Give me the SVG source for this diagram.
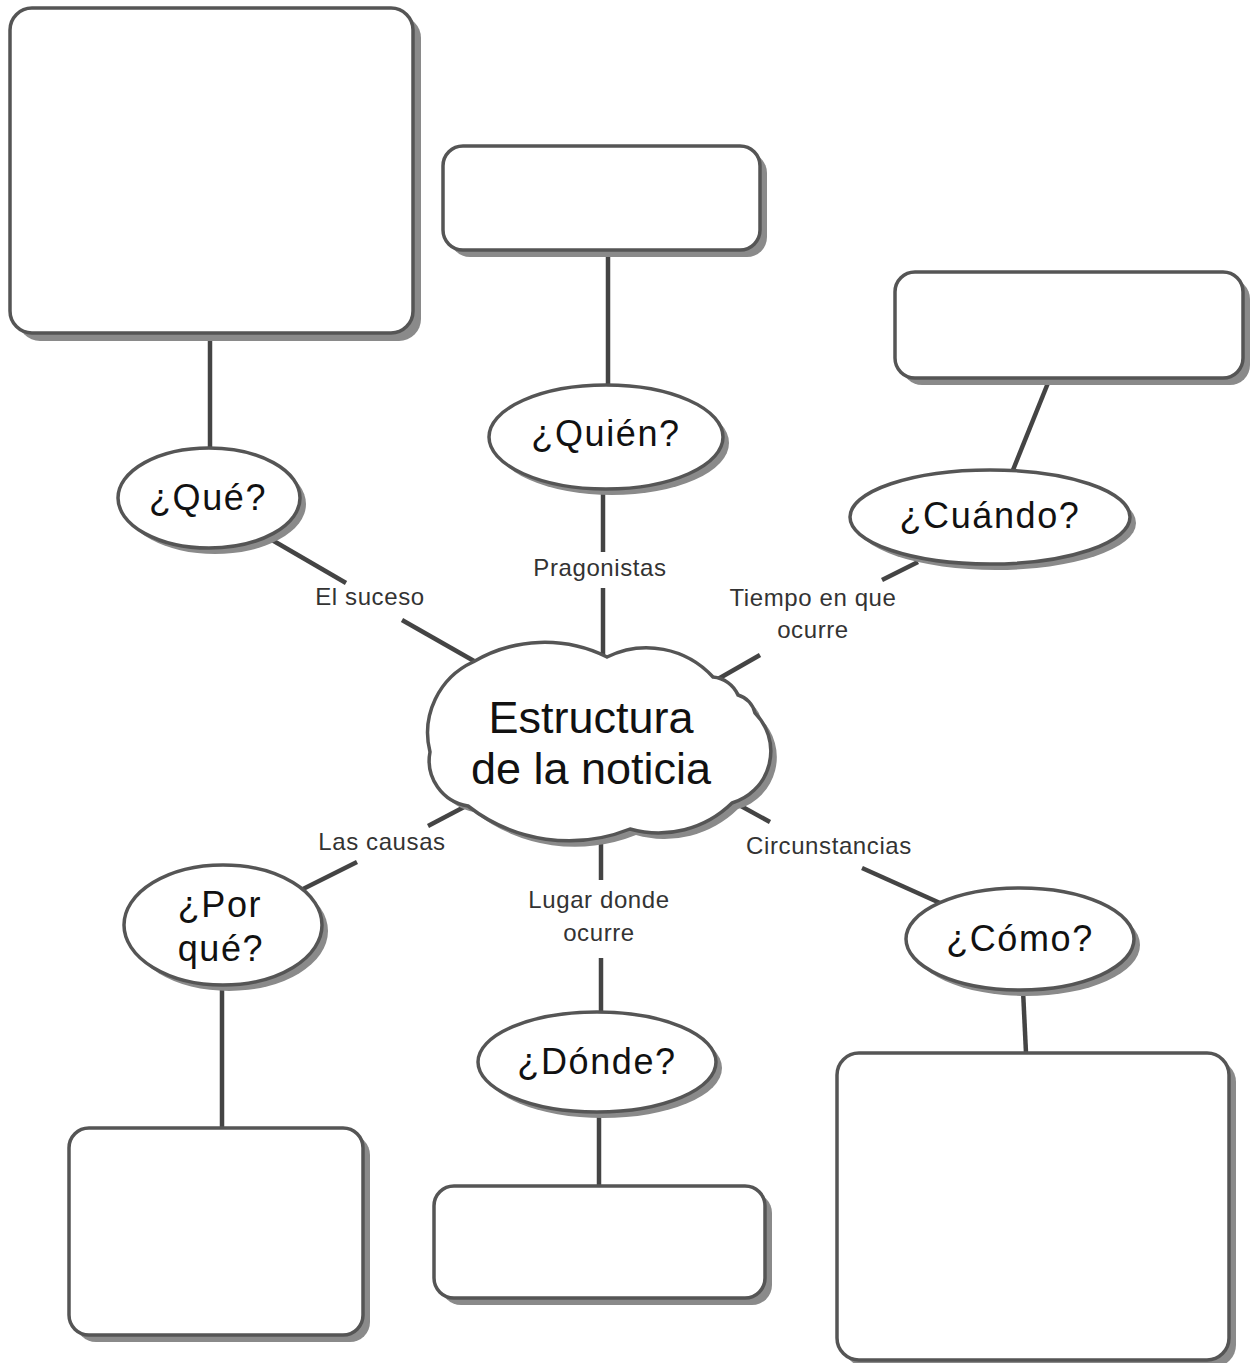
<svg xmlns="http://www.w3.org/2000/svg" width="1253" height="1363" viewBox="0 0 1253 1363">
<style>
.sh{fill:#8a8a8a}
.bx{fill:#fff;stroke:#555;stroke-width:3.5}
.cn{stroke:#444;stroke-width:4.5;fill:none;stroke-linecap:butt}
.nt{font-family:"Liberation Sans",Arial,sans-serif;font-size:36px;fill:#111;text-anchor:middle;letter-spacing:1.6px}
.lb{font-family:"Liberation Sans",Arial,sans-serif;font-size:24px;fill:#333;text-anchor:middle;letter-spacing:0.6px}
.ct{font-family:"Liberation Sans",Arial,sans-serif;font-size:45px;fill:#111;text-anchor:middle}
</style>
<defs>
<path id="cloud" d="M473,662 A140,140 0 0 1 607,657 A90,90 0 0 1 713,677 A30,30 0 0 1 738,695 A25,25 0 0 1 755,713 A54,54 0 0 1 732,803 A105,105 0 0 1 630,829 A164,164 0 0 1 468,806 A46,46 0 0 1 430,752 A78,78 0 0 1 473,662 Z"/>
</defs>
<rect width="1253" height="1363" fill="#fff"/>
<g id="connectors">
<line class="cn" x1="210" y1="333" x2="210" y2="448"/>
<line class="cn" x1="272" y1="540" x2="346" y2="583"/>
<line class="cn" x1="402" y1="620" x2="474" y2="661"/>
<line class="cn" x1="608" y1="250" x2="608" y2="385"/>
<line class="cn" x1="603" y1="490" x2="603" y2="552"/>
<line class="cn" x1="603" y1="588" x2="603" y2="656"/>
<line class="cn" x1="1050" y1="378" x2="1013" y2="470"/>
<line class="cn" x1="918" y1="562" x2="882" y2="580"/>
<line class="cn" x1="760" y1="655" x2="718" y2="679"/>
<line class="cn" x1="466" y1="806" x2="428" y2="826"/>
<line class="cn" x1="357" y1="862" x2="303" y2="889"/>
<line class="cn" x1="222" y1="985" x2="222" y2="1128"/>
<line class="cn" x1="601" y1="830" x2="601" y2="880"/>
<line class="cn" x1="601" y1="958" x2="601" y2="1012"/>
<line class="cn" x1="599" y1="1112" x2="599" y2="1186"/>
<line class="cn" x1="730" y1="800" x2="770" y2="822"/>
<line class="cn" x1="862" y1="868" x2="940" y2="903"/>
<line class="cn" x1="1023" y1="990" x2="1026" y2="1053"/>
</g>
<g id="labels">
<text class="lb" x="370" y="605">El suceso</text>
<text class="lb" x="600" y="576">Pragonistas</text>
<text class="lb" x="813" y="606">Tiempo en que</text>
<text class="lb" x="813" y="638">ocurre</text>
<text class="lb" x="382" y="850">Las causas</text>
<text class="lb" x="829" y="854">Circunstancias</text>
<text class="lb" x="599" y="908">Lugar donde</text>
<text class="lb" x="599" y="941">ocurre</text>
</g>
<g id="box-que">
<rect class="sh" x="18" y="16" width="403" height="325" rx="22"/>
<rect class="bx" x="10" y="8" width="403" height="325" rx="22"/>
</g>
<g id="box-quien">
<rect class="sh" x="450" y="153" width="317" height="104" rx="20"/>
<rect class="bx" x="443" y="146" width="317" height="104" rx="20"/>
</g>
<g id="box-cuando">
<rect class="sh" x="902" y="279" width="348" height="106" rx="20"/>
<rect class="bx" x="895" y="272" width="348" height="106" rx="20"/>
</g>
<g id="box-porque">
<rect class="sh" x="76" y="1135" width="294" height="207" rx="20"/>
<rect class="bx" x="69" y="1128" width="294" height="207" rx="20"/>
</g>
<g id="box-donde">
<rect class="sh" x="441" y="1193" width="331" height="112" rx="20"/>
<rect class="bx" x="434" y="1186" width="331" height="112" rx="20"/>
</g>
<g id="box-como">
<rect class="sh" x="844" y="1060" width="392" height="307" rx="22"/>
<rect class="bx" x="837" y="1053" width="392" height="307" rx="22"/>
</g>
<g id="node-que">
<ellipse class="sh" cx="215" cy="504" rx="91" ry="50"/>
<ellipse class="bx" cx="209" cy="498" rx="91" ry="50"/>
<text class="nt" x="208" y="510">¿Qué?</text>
</g>
<g id="node-quien">
<ellipse class="sh" cx="612" cy="443" rx="117" ry="52"/>
<ellipse class="bx" cx="606" cy="437" rx="117" ry="52"/>
<text class="nt" x="606" y="446">¿Quién?</text>
</g>
<g id="node-cuando">
<ellipse class="sh" cx="996" cy="523" rx="140" ry="47"/>
<ellipse class="bx" cx="990" cy="517" rx="140" ry="47"/>
<text class="nt" x="990" y="528">¿Cuándo?</text>
</g>
<g id="node-porque">
<ellipse class="sh" cx="229" cy="931" rx="99" ry="60"/>
<ellipse class="bx" cx="223" cy="925" rx="99" ry="60"/>
<text class="nt" x="220" y="917">¿Por</text>
<text class="nt" x="221" y="961">qué?</text>
</g>
<g id="node-donde">
<ellipse class="sh" cx="603" cy="1068" rx="119" ry="50"/>
<ellipse class="bx" cx="597" cy="1062" rx="119" ry="50"/>
<text class="nt" x="597" y="1074">¿Dónde?</text>
</g>
<g id="node-como">
<ellipse class="sh" cx="1026" cy="945" rx="114" ry="51"/>
<ellipse class="bx" cx="1020" cy="939" rx="114" ry="51"/>
<text class="nt" x="1020" y="951">¿Cómo?</text>
</g>
<g id="node-cloud">
<use href="#cloud" class="sh" transform="translate(6,6)"/>
<use href="#cloud" class="bx"/>
<text class="ct" x="591" y="733">Estructura</text>
<text class="ct" x="591" y="784">de la noticia</text>
</g>
</svg>
